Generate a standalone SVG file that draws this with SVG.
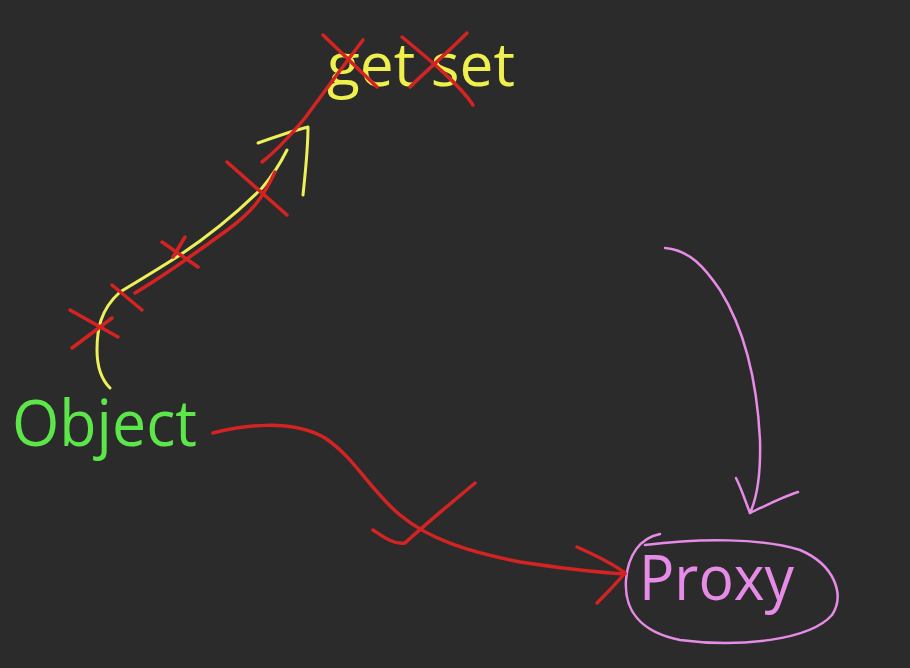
<svg xmlns="http://www.w3.org/2000/svg" width="910" height="668" viewBox="0 0 910 668">
<style>
.bg{fill:#2b2b2b}
.lbl{font-family:"Open Sans","Noto Sans","DejaVu Sans",sans-serif;font-weight:500}
.red{fill:none;stroke:#d42323;stroke-width:3.5;stroke-linecap:round;stroke-linejoin:round}
.yel{fill:none;stroke:#eef05a;stroke-width:3;stroke-linecap:round;stroke-linejoin:round}
.pink{fill:none;stroke:#e68be6;stroke-width:2.5;stroke-linecap:round;stroke-linejoin:round}
</style>
<rect class="bg" x="0" y="0" width="910" height="668"/>
<g id="node-getset">
<text class="lbl" x="327" y="86" font-size="60" fill="#f0f04c" textLength="188" lengthAdjust="spacingAndGlyphs">get set</text>
</g>
<g id="node-object">
<text class="lbl" x="12" y="446" font-size="64" fill="#5ce64a" textLength="185" lengthAdjust="spacingAndGlyphs">Object</text>
</g>
<g id="node-proxy">
<text class="lbl" x="639" y="600" font-size="63" fill="#e68be6" textLength="155" lengthAdjust="spacingAndGlyphs">Proxy</text>
<path class="pink" d="M660,534 C640,538 628,555 626,580 C624,610 640,632 680,640 C740,648 810,640 832,615 C845,595 835,565 800,550 C760,538 700,538 645,545"/>
</g>
<g id="connectors">
<path class="yel" d="M110,388 C100,378 97,365 97,350 C97,330 100,310 120,292 C140,280 160,268 180,255 C210,235 240,210 262,188 C275,173 282,160 287,150"/>
<path class="yel" d="M258,143 C275,137 295,130 308,127 C308,150 305,175 303,195"/>
<path class="red" d="M135,293 C160,278 200,250 230,228 C250,213 262,200 275,172"/>
<path class="red" d="M262,162 C280,148 295,130 305,118 C320,98 340,70 363,40"/>
<path class="red" d="M70,310 L118,337 M72,348 L112,318"/>
<path class="red" d="M112,285 L142,310"/>
<path class="red" d="M162,242 L198,267 M173,257 L185,237"/>
<path class="red" d="M227,162 L287,215"/>
<path class="red" d="M323,35 L377,87"/>
<path class="red" d="M402,37 C430,60 460,85 473,105 M467,33 C445,55 425,72 410,87"/>
<path class="red" d="M213,433 C240,426 290,418 325,438 C355,458 370,490 400,515 C430,540 470,552 520,562 C560,568 595,572 625,574"/>
<path class="red" d="M577,547 C595,555 612,563 625,573 C615,585 605,595 597,603"/>
<path class="red" d="M373,530 C385,538 395,545 405,543 C430,520 455,500 475,483"/>
<path class="pink" d="M665,248 C690,250 705,268 720,290 C745,330 757,380 760,440 C761,480 756,500 750,513"/>
<path class="pink" d="M736,478 C742,490 746,503 750,513 C765,506 782,497 798,492"/>
</g>
</svg>
